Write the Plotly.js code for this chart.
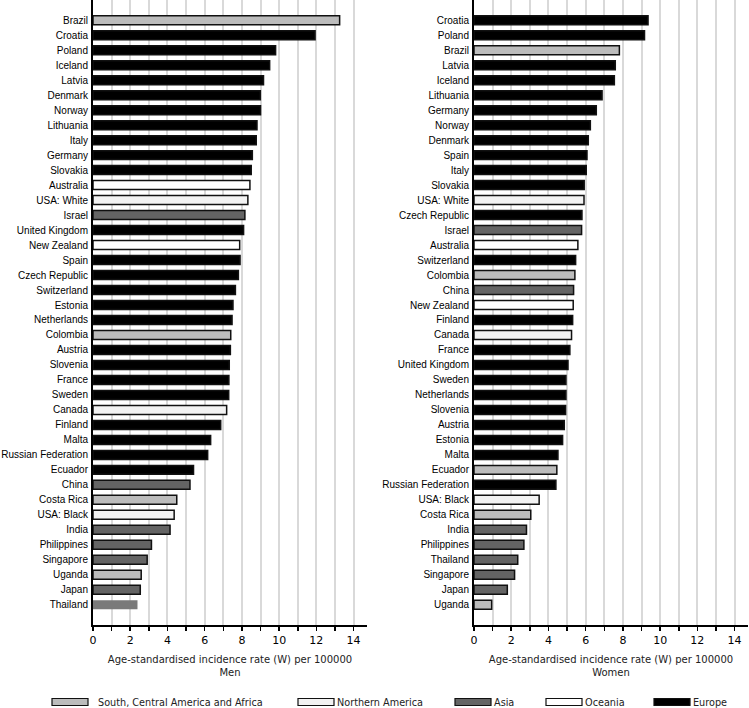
<!DOCTYPE html>
<html>
<head>
<meta charset="utf-8">
<script src="https://cdn.plot.ly/plotly-3.0.1.min.js"></script>
<style>html,body{margin:0;padding:0;background:#fff;}#chart{width:749px;height:708px;}</style>
</head>
<body>
<div id="chart"></div>
<script>
// ---- Data ----
const menCountries = ["Brazil","Croatia","Poland","Iceland","Latvia","Denmark","Norway","Lithuania","Italy","Germany","Slovakia","Australia","USA: White","Israel","United Kingdom","New Zealand","Spain","Czech Republic","Switzerland","Estonia","Netherlands","Colombia","Austria","Slovenia","France","Sweden","Canada","Finland","Malta","Russian Federation","Ecuador","China","Costa Rica","USA: Black","India","Philippines","Singapore","Uganda","Japan","Thailand"];
const menValues = [13.25,11.93,9.81,9.49,9.16,8.99,9.0,8.81,8.77,8.56,8.5,8.43,8.32,8.16,8.09,7.88,7.9,7.81,7.65,7.52,7.47,7.4,7.38,7.32,7.3,7.29,7.18,6.86,6.32,6.16,5.4,5.21,4.5,4.36,4.14,3.14,2.91,2.59,2.54,2.39];
const menRegions = ["SCA","EU","EU","EU","EU","EU","EU","EU","EU","EU","EU","OC","NA","AS","EU","OC","EU","EU","EU","EU","EU","SCA","EU","EU","EU","EU","NA","EU","EU","EU","EU","AS","SCA","NA","AS","AS","AS","SCA","AS","AS"];

const womenCountries = ["Croatia","Poland","Brazil","Latvia","Iceland","Lithuania","Germany","Norway","Denmark","Spain","Italy","Slovakia","USA: White","Czech Republic","Israel","Australia","Switzerland","Colombia","China","New Zealand","Finland","Canada","France","United Kingdom","Sweden","Netherlands","Slovenia","Austria","Estonia","Malta","Ecuador","Russian Federation","USA: Black","Costa Rica","India","Philippines","Thailand","Singapore","Japan","Uganda"];
const womenValues = [9.35,9.16,7.81,7.59,7.54,6.88,6.57,6.25,6.14,6.07,6.03,5.92,5.91,5.8,5.78,5.58,5.46,5.42,5.35,5.33,5.3,5.24,5.15,5.05,4.94,4.94,4.92,4.85,4.76,4.51,4.45,4.4,3.5,3.05,2.82,2.68,2.35,2.18,1.79,0.95];
const womenRegions = ["EU","EU","SCA","EU","EU","EU","EU","EU","EU","EU","EU","EU","NA","EU","AS","OC","EU","SCA","AS","OC","EU","NA","EU","EU","EU","EU","EU","EU","EU","EU","SCA","EU","NA","SCA","AS","AS","AS","AS","AS","SCA"];

const legendKeys = ["SCA","NA","AS","OC","EU"];
const legendLabels = ["South, Central America and Africa","Northern America","Asia","Oceania","Europe"];

const xTitle = "Age-standardised incidence rate (W) per 100000";
const panelNames = ["Men","Women"];

// ---- Styles ----
const regionColor = {SCA:"#bcbcbc", NA:"#f2f2f2", AS:"#646464", OC:"#ffffff", EU:"#000000"};
const specialStyle = {men:{"Thailand":{color:"#7a7a7a", lw:0}}};
const fontCat = "Liberation Sans, Arial, sans-serif";
const fontV = "DejaVu Sans, Verdana, sans-serif";

function barTrace(cats, vals, regs, xa, ya, key){
  const colors = [], lws = [];
  cats.forEach((c,i)=>{
    const sp = (specialStyle[key]||{})[c];
    colors.push(sp ? sp.color : regionColor[regs[i]]);
    lws.push(sp ? sp.lw : 1.5);
  });
  return {type:"bar", orientation:"h", x:vals, y:cats, xaxis:xa, yaxis:ya,
    width:0.6, marker:{color:colors, line:{color:"#111", width:lws}},
    hoverinfo:"x+y", showlegend:false};
}

const traces = [
  barTrace(menCountries, menValues, menRegions, "x", "y", "men"),
  barTrace(womenCountries, womenValues, womenRegions, "x2", "y2", "women")
];

function xaxis(domain, anchor, name){
  return {domain:domain, anchor:anchor, range:[0,14.72], dtick:2, tick0:0,
    showgrid:true, gridcolor:"#d9d9d9", gridwidth:2,
    minor:{dtick:1, showgrid:true, gridcolor:"#d9d9d9", gridwidth:2, ticks:"outside", ticklen:4, tickcolor:"#000", tickwidth:1.5},
    ticks:"outside", ticklen:4, tickcolor:"#000", tickwidth:1.5,
    showline:true, linecolor:"#000", linewidth:2, zeroline:false,
    tickfont:{family:fontV, size:11, color:"#000"},
    title:{text:xTitle+"<br>"+name, font:{family:fontV, size:10, color:"#222"}, standoff:10},
    fixedrange:true};
}
function yaxis(anchor, n){
  return {anchor:anchor, type:"category", range:[n-1+1.35, -1.35], domain:[0,1],
    showline:true, linecolor:"#000", linewidth:2, showgrid:false, zeroline:false,
    ticks:"", ticklabelstandoff:1,
    tickfont:{family:fontCat, size:10, color:"#000"}, fixedrange:true};
}

const W = 749, H = 708, mb = 83;
const plotH = H - mb;
const shapes = [], annotations = [];
const boxX = [52, 298, 455, 546, 654];
const boxW = 36;
const legendY = 702;
const py = v => (H - mb - v) / plotH;
legendKeys.forEach((k,i)=>{
  shapes.push({type:"rect", xref:"paper", yref:"paper",
    x0:boxX[i]/W, x1:(boxX[i]+boxW)/W, y0:py(legendY+3.5), y1:py(legendY-3.5),
    fillcolor:regionColor[k], line:{color:"#111", width:1.2}});
  annotations.push({xref:"paper", yref:"paper", x:(boxX[i]+boxW+(i===0?8:1))/W, y:py(legendY),
    xanchor:"left", yanchor:"middle", showarrow:false, text:legendLabels[i],
    font:{family:fontV, size:9.7, color:"#222"}});
});

const layout = {
  width:W, height:H, margin:{l:0, r:0, t:0, b:mb},
  paper_bgcolor:"#fff", plot_bgcolor:"#fff",
  bargap:0.4,
  xaxis: xaxis([93/W, 367/W], "y", panelNames[0]),
  yaxis: yaxis("x", menCountries.length),
  xaxis2: xaxis([474/W, 748/W], "y2", panelNames[1]),
  yaxis2: yaxis("x2", womenCountries.length),
  shapes:shapes, annotations:annotations, showlegend:false
};

Plotly.newPlot("chart", traces, layout, {displayModeBar:false, staticPlot:true});
</script>
</body>
</html>
